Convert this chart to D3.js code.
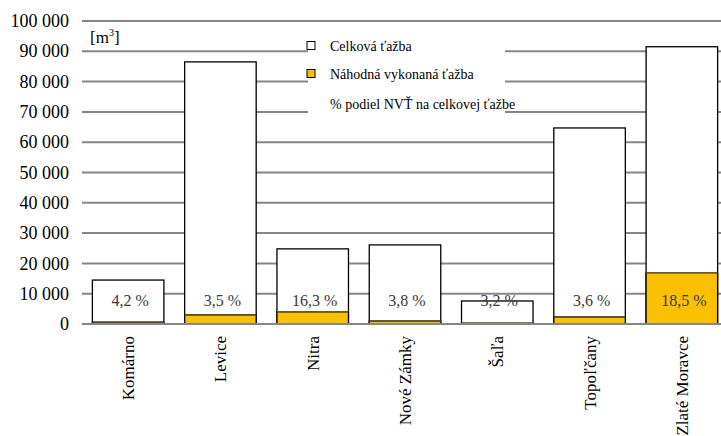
<!DOCTYPE html>
<html>
<head>
<meta charset="utf-8">
<script src="https://cdn.jsdelivr.net/npm/d3@7/dist/d3.min.js"></script>
<style>
  html, body { margin: 0; padding: 0; background: #fff; }
  svg { display: block; }
  svg text { font-family: "Liberation Serif", "DejaVu Serif", serif; }
</style>
</head>
<body>
<svg id="chart" width="721" height="436"></svg>
<script>
// Forest districts and harvest volumes [m3]
const districts = ["Komárno", "Levice", "Nitra", "Nové Zámky", "Šaľa", "Topoľčany", "Zlaté Moravce"];
const totalHarvest = [14500, 86500, 24800, 26100, 7600, 64700, 91500];
const randomHarvest = [610, 3030, 4040, 990, 245, 2330, 16930];
const randomShareLabels = ["4,2 %", "3,5 %", "16,3 %", "3,8 %", "3,2 %", "3,6 %", "18,5 %"];
const yTicks = [0, 10000, 20000, 30000, 40000, 50000, 60000, 70000, 80000, 90000, 100000];
const legendLabels = ["Celková ťažba", "Náhodná vykonaná ťažba", "% podiel NVŤ na celkovej ťažbe"];

const svg = d3.select("#chart").attr("font-family", "Liberation Serif, serif");
const yellow = "#FBC000";
const gridColor = "#868686";

const plotLeft = 82, plotRight = 728;
const y = d3.scaleLinear().domain([0, 100000]).range([324, 21]);
const x = d3.scaleBand().domain(districts).range([plotLeft, plotRight])
  .paddingInner(0.225).paddingOuter(0.1125);

const fmt = v => d3.format(",")(v).replace(/,/g, " ");

// horizontal gridlines
svg.append("g").selectAll("line").data(yTicks.filter(t => t > 0)).join("line")
  .attr("x1", plotLeft).attr("x2", 721)
  .attr("y1", d => y(d)).attr("y2", d => y(d))
  .attr("stroke", gridColor).attr("stroke-width", 2);

// y tick labels
svg.append("g").selectAll("text").data(yTicks).join("text")
  .attr("x", 69).attr("y", d => y(d)).attr("dy", "0.34em")
  .attr("text-anchor", "end")
  .attr("font-size", 18).attr("fill", "#000")
  .text(d => fmt(d));

// unit label
const unit = svg.append("text").attr("x", 90).attr("y", 43)
  .attr("font-size", 17).attr("fill", "#000");
unit.append("tspan").text("[m");
unit.append("tspan").attr("dy", -7).attr("font-size", 10).text("3");
unit.append("tspan").attr("dy", 7).text("]");

// total harvest bars
svg.append("g").selectAll("rect").data(districts).join("rect")
  .attr("x", d => x(d)).attr("width", x.bandwidth())
  .attr("y", (d, i) => y(totalHarvest[i]))
  .attr("height", (d, i) => y(0) - y(totalHarvest[i]))
  .attr("fill", "#fff").attr("stroke", "#000").attr("stroke-width", 1.3);

// random harvest part
svg.append("g").selectAll("rect").data(districts).join("rect")
  .attr("x", d => x(d)).attr("width", x.bandwidth())
  .attr("y", (d, i) => y(randomHarvest[i]))
  .attr("height", (d, i) => y(0) - y(randomHarvest[i]))
  .attr("fill", yellow).attr("stroke", "#000").attr("stroke-width", 1.3);

// boundary between segments
svg.append("g").selectAll("line").data(districts).join("line")
  .attr("x1", d => x(d)).attr("x2", d => x(d) + x.bandwidth())
  .attr("y1", (d, i) => y(randomHarvest[i])).attr("y2", (d, i) => y(randomHarvest[i]))
  .attr("stroke", "#6b5a2a").attr("stroke-width", 1.3);

// share labels at a common level
const labelLevel = 6000;
svg.append("g").selectAll("text").data(districts).join("text")
  .attr("x", d => x(d) + x.bandwidth() / 2 + 2).attr("y", y(labelLevel))
  .attr("text-anchor", "middle")
  .attr("font-size", 16).attr("fill", "#3a3a3a")
  .text((d, i) => randomShareLabels[i]);

// baseline
svg.append("line").attr("x1", plotLeft).attr("x2", 721)
  .attr("y1", y(0)).attr("y2", y(0))
  .attr("stroke", gridColor).attr("stroke-width", 2.2);

// category labels
svg.append("g").selectAll("text").data(districts).join("text")
  .attr("transform", d => `translate(${x(d) + x.bandwidth() / 2},336) rotate(-90)`)
  .attr("dy", "0.35em").attr("text-anchor", "end")
  .attr("font-size", 17).attr("fill", "#000")
  .text(d => d);

// legend
const legend = svg.append("g");
legend.append("rect").attr("x", 308).attr("y", 30).attr("width", 197).attr("height", 95).attr("fill", "#fff");
const markerFill = ["#fff", yellow, null];
const legendY = [46, 74, 104];
legendLabels.forEach((t, i) => {
  if (markerFill[i]) {
    legend.append("rect").attr("x", 307).attr("y", legendY[i] - 4.5).attr("width", 8).attr("height", 8)
      .attr("fill", markerFill[i]).attr("stroke", "#000").attr("stroke-width", 1);
  }
  legend.append("text").attr("x", 330).attr("y", legendY[i]).attr("dy", "0.34em")
    .attr("font-size", 14).attr("fill", "#000")
    .text(t);
});
</script>
</body>
</html>
